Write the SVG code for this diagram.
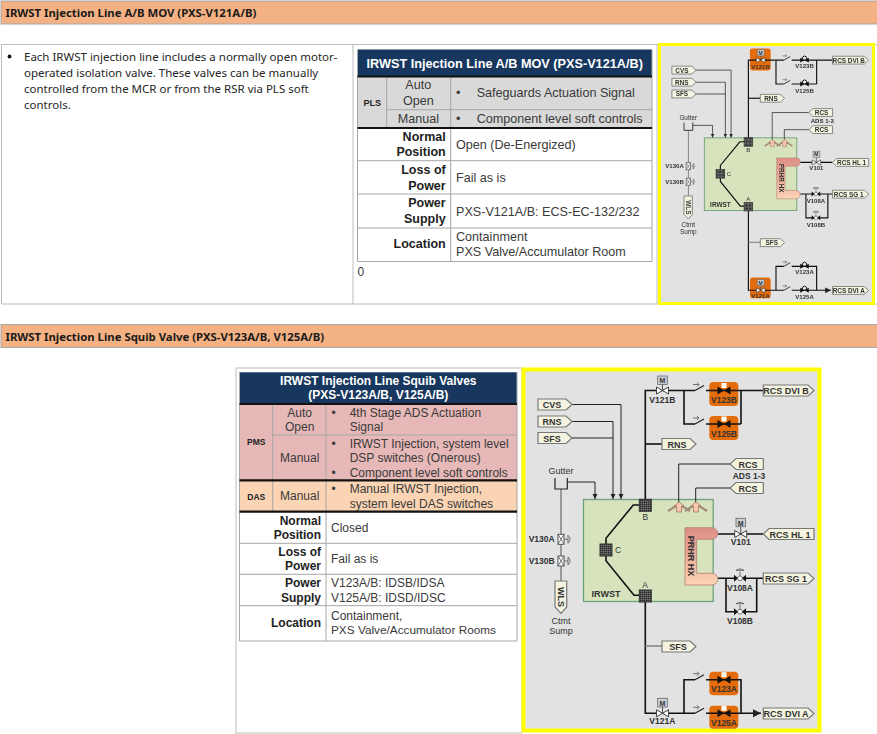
<svg xmlns="http://www.w3.org/2000/svg" xmlns:xlink="http://www.w3.org/1999/xlink" width="877" height="734" viewBox="0 0 877 734">
<style>
.band{fill:#F4B183;stroke:#A6A6A6;stroke-width:1}
.bt{font:bold 11.35px "Noto Sans",sans-serif;fill:#1a1a1a}
.body{font:11.5px "Noto Sans",sans-serif;fill:#262626}
.cell{fill:none;stroke:#BDBDBD;stroke-width:1}
.t{font:12px "Liberation Sans",Arial,sans-serif;fill:#3a3a3a}
.t1{font:12.6px "Liberation Sans",Arial,sans-serif;fill:#3a3a3a}
.tb{font:bold 12.5px "Liberation Sans",Arial,sans-serif;fill:#222}
.ts{font:bold 8.5px "Liberation Sans",Arial,sans-serif;fill:#222}
.th{font:bold 12.7px "Liberation Sans",Arial,sans-serif;fill:#fff}
.mid{text-anchor:middle}.end{text-anchor:end}
.grid{stroke:#A6A6A6;stroke-width:1;fill:none}
.thick{stroke:#111;stroke-width:2.2;fill:none}
.frame{fill:#E2E2E2;stroke:#FFFF00;stroke-width:4}
.tag{fill:#F4F4E0;stroke:#777;stroke-width:1.2}
.tg{font:bold 9px "Liberation Sans",Arial,sans-serif;fill:#333;text-anchor:middle}
.lb{font:bold 8.5px "Liberation Sans",Arial,sans-serif;fill:#333;text-anchor:middle}
.lr{font:8.5px "Liberation Sans",Arial,sans-serif;fill:#333;text-anchor:middle}
.p{fill:none;stroke:#111;stroke-width:1.6}
.pt{fill:none;stroke:#222;stroke-width:1}
.pg{fill:none;stroke:#808080;stroke-width:1.5}
.tank{fill:#D7E3BC;stroke:#6FA27E;stroke-width:1.3}
.org{fill:#E46C0A}
.m{fill:#C8D0D8;stroke:#666;stroke-width:.8}
.mt{font:bold 7px "Liberation Sans",Arial,sans-serif;fill:#333;text-anchor:middle}
</style>
<defs>
<filter id="soft" x="-2%" y="-2%" width="104%" height="104%"><feGaussianBlur stdDeviation=".4"/></filter>
<linearGradient id="hx" x1="0" y1="0" x2="0" y2="1"><stop offset="0" stop-color="#DE8F86"/><stop offset="0.45" stop-color="#E8A898"/><stop offset="1" stop-color="#FBD4B4"/></linearGradient>
<pattern id="chk" width="2" height="2" patternUnits="userSpaceOnUse"><rect width="2" height="2" fill="#4d4d4d"/><rect width="1" height="1" fill="#2c2c2c"/><rect x="1" y="1" width="1" height="1" fill="#777"/></pattern>
<marker id="ar" markerWidth="6" markerHeight="6" refX="5" refY="3" orient="auto"><path d="M0 .5L5 3L0 5.500z" fill="#222"/></marker>
<g id="gate"><path d="M-6-3.500L0 0L-6 3.500zM6-3.500L0 0L6 3.500z" fill="#fff" stroke="#444" stroke-width="1"/></g>
<g id="squib"><path d="M-6.500-4L0 0L-6.500 4zM6.500-4L0 0L6.500 4z" fill="#111"/><rect x="-2.500" y="-7.500" width="5" height="5" fill="#fff"/></g>
<g id="squibs"><path d="M-6-3.500L0 0L-6 3.500zM6-3.500L0 0L6 3.500z" fill="#111"/><path d="M-3-1V-4Q0-8 3-4V-1" fill="none" stroke="#111" stroke-width="1.4"/></g>
<g id="globe"><path d="M-6-3.500L-2 0L-6 3.500zM6-3.500L2 0L6 3.500z" fill="#111"/><circle r="2.400" fill="#fff" stroke="#555" stroke-width=".8"/><path d="M0-2V-7M-4-8Q0-11 4-8z" fill="#ddd" stroke="#555" stroke-width=".8"/></g>
<g id="sw"><path d="M-5 0L4-5" fill="none" stroke="#222" stroke-width="1.2"/><path d="M-7-6H-1M-3-8L-1-6L-3-4" fill="none" stroke="#555" stroke-width=".8"/></g>
<g id="v130"><rect x="-3" y="-5" width="6" height="10" fill="#fff" stroke="#555"/><path d="M-3-5L3 5M3-5L-3 5" stroke="#555" stroke-width=".8"/><path d="M3 0H7M7-4Q11 0 7 4z" fill="#eee" stroke="#555" stroke-width=".8"/></g>
<g id="sp"><path d="M-11 4L0-3L11 4" fill="none" stroke="#A08A78" stroke-width="2.200"/><path d="M-2.500 5V-1H-5L0-5L5-1H2.500V5z" fill="#F6C8B4" stroke="#A06A50" stroke-width=".7"/></g>
</defs>
<rect width="877" height="734" fill="#fff"/>

<g id="section-a">
<rect class="band" x="1" y="1" width="877" height="23"/>
<text class="bt" x="5.500" y="17">IRWST Injection Line A/B MOV (PXS-V121A/B)</text>
<path class="cell" d="M1 44.500H877M1.500 44V304H877M353 44V304M657 44V304"/>
<circle cx="9.500" cy="56.500" r="1.900" fill="#111"/>
<text class="body"><tspan x="24" y="60.500">Each IRWST injection line includes a normally open motor-</tspan><tspan x="24" y="76.500">operated isolation valve. These valves can be manually</tspan><tspan x="24" y="93">controlled from the MCR or from the RSR via PLS soft</tspan><tspan x="24" y="109">controls.</tspan></text>
</g>

<g id="table-mov">
<rect x="357.500" y="49.500" width="294.500" height="27" fill="#17375E"/>
<rect x="357.500" y="77" width="294.500" height="51" fill="#D9D9D9"/>
<rect x="357.500" y="128" width="294.500" height="133.500" fill="#fff"/>
<path class="grid" d="M386.700 77V128M450.700 77V261.500M386.700 109.700H652M357.500 160.700H652M357.500 194H652M357.500 228H652M357.500 261.500H652M652 50V261.500M357.500 50V261.500"/>
<path class="thick" d="M357.500 76.500H652M357.500 128H652"/>
<text class="th mid" x="504.700" y="68">IRWST Injection Line A/B MOV (PXS-V121A/B)</text>
<text class="ts mid" x="372.300" y="106" style="font-size:9px">PLS</text>
<text class="t1 mid" x="418.300" y="89">Auto</text><text class="t1 mid" x="418.300" y="105">Open</text>
<text class="t1 mid" x="418.300" y="122.700">Manual</text>
<text class="t1" x="456" y="97.300">•</text><text class="t1" x="476.700" y="97.300">Safeguards Actuation Signal</text>
<text class="t1" x="456" y="122.700">•</text><text class="t1" x="476.700" y="122.700">Component level soft controls</text>
<text class="tb end" x="445.700" y="141">Normal</text><text class="tb end" x="445.700" y="156.300">Position</text>
<text class="tb end" x="445.700" y="174.300">Loss of</text><text class="tb end" x="445.700" y="190">Power</text>
<text class="tb end" x="445.700" y="207.300">Power</text><text class="tb end" x="445.700" y="223">Supply</text>
<text class="tb end" x="445.700" y="248.300">Location</text>
<text class="t1" x="456" y="149.300">Open (De-Energized)</text>
<text class="t1" x="456" y="182">Fail as is</text>
<text class="t1" x="456" y="215.700">PXS-V121A/B: ECS-EC-132/232</text>
<text class="t1" x="456" y="241">Containment</text><text class="t1" x="456" y="256.300">PXS Valve/Accumulator Room</text>
<text class="t" x="357.500" y="275.500">0</text>
</g>

<rect x="659.500" y="44.500" width="214" height="259" class="frame" style="stroke-width:3"/>
<g id="diagram-small" transform="matrix(.713 0 0 .713 288.300 -218.300)" filter="url(#soft)">
<rect class="org" x="647.500" y="374" width="29" height="31" rx="4"/>
<rect class="org" x="647.500" y="695.500" width="29" height="29" rx="4"/>
<g id="s-irwst"><rect class="tank" x="583.500" y="499.500" width="129.700" height="102"/><text class="lb" x="606" y="597" style="font-size:9px">IRWST</text></g>
<g id="s-connectors">
<path class="pt" d="M572 404.500H621V499" marker-end="url(#ar)"/>
<path class="pt" d="M572 421.500H613V499" marker-end="url(#ar)"/>
<path class="pt" d="M572 438H613"/>
<path class="pt" d="M567 482H595V499" marker-end="url(#ar)"/>
<path class="pg" d="M561 489V581"/>
<path class="p" d="M645.300 499V390.500H695M706 390.500H763"/>
<path class="p" d="M684 390.500V424H695M706 424H741M741 390.500V424"/>
<path class="p" d="M645.300 444H662"/>
<path class="pt" d="M730 464H678.700V502M730 488H695.700V502"/>
<path class="p" d="M718 534H763M718 578.300H763M726 578.300V611.700H756.700V578.300"/>
<path class="p" d="M640 505H633.300L606 538.300V544M606 556V560.700L634 595.300H640"/>
<path class="p" d="M645.300 601V713.300H695M706 713.300H761" marker-end="url(#ar)"/>
<path class="pg" d="M645.300 646H662"/>
<path class="p" d="M684 713.300V679.700H695M706 679.700H741V713.300"/>
<path d="M662.500 384V390M662.500 707V713M740.700 526.700V534" stroke="#555"/>
</g>
<g id="s-noz-b"><rect x="639.300" y="499.300" width="12" height="12" fill="url(#chk)" stroke="#333"/><text class="lr" x="645.300" y="520">B</text></g>
<g id="s-noz-c"><rect x="600" y="544" width="12" height="12" fill="url(#chk)" stroke="#333"/><text class="lr" x="618" y="553">C</text></g>
<g id="s-noz-a"><rect x="639.300" y="590" width="12" height="12" fill="url(#chk)" stroke="#333"/><text class="lr" x="645" y="588">A</text></g>
<g id="s-prhr"><path d="M685 527.700H712A5.800 5.800 0 0 1 712 539.300H696.700V573.300H712A5.800 5.800 0 0 1 712 585H685z" fill="url(#hx)" stroke="#B08070" stroke-width=".8"/><text class="lb" transform="translate(688 556) rotate(90)" style="font-size:9px">PRHR HX</text></g>
<g id="s-sp"><use href="#sp" x="679" y="507"/><use href="#sp" x="696" y="507"/></g>
<g id="s-cvs"><path class="tag" d="M538 399H566L572 404.500L566 410H538z"/><text class="tg" x="552" y="408">CVS</text></g>
<g id="s-rns1"><path class="tag" d="M538 416H566L572 421.500L566 427H538z"/><text class="tg" x="552" y="425">RNS</text></g>
<g id="s-sfs1"><path class="tag" d="M538 432.500H566L572 438L566 443.500H538z"/><text class="tg" x="552" y="441.500">SFS</text></g>
<g id="s-rns2"><path class="tag" d="M662 438.500H690L696 444L690 449.500H662z"/><text class="tg" x="677" y="447.500">RNS</text></g>
<g id="s-rcs1"><path class="tag" d="M763.300 458.500H736L730 464L736 469.500H763.300z"/><text class="tg" x="748" y="467.500">RCS</text></g>
<text class="lb" x="749" y="479">ADS 1-3</text>
<g id="s-rcs2"><path class="tag" d="M763.300 482.500H736L730 488L736 493.500H763.300z"/><text class="tg" x="748" y="491.500">RCS</text></g>
<g id="s-hl"><path class="tag" d="M814 528.500H769L763.300 534L769 539.500H814z"/><text class="tg" x="790" y="537.500">RCS HL 1</text></g>
<g id="s-sg"><path class="tag" d="M763.300 573H808L814 578.500L808 584H763.300z"/><text class="tg" x="786" y="582">RCS SG 1</text></g>
<g id="s-dvib"><path class="tag" d="M763.300 385H808L814 390.500L808 396H763.300z"/><text class="tg" x="786" y="394">RCS DVI B</text></g>
<g id="s-dvia"><path class="tag" d="M763.300 708H808L814 713.500L808 719H763.300z"/><text class="tg" x="786" y="717">RCS DVI A</text></g>
<g id="s-sfs2"><path class="tag" d="M662 641H690L696 646.500L690 652H662z"/><text class="tg" x="678" y="650">SFS</text></g>
<g id="s-gutter"><path d="M555 478V489H567.300V478" fill="none" stroke="#222" stroke-width="1.2"/><text class="lr" x="561" y="474" style="font-size:9px">Gutter</text></g>
<g id="s-v130a"><use href="#v130" x="561" y="539.300"/><text class="lb" x="541.700" y="542.300">V130A</text></g>
<g id="s-v130b"><use href="#v130" x="561" y="561"/><text class="lb" x="541.700" y="564">V130B</text></g>
<g id="s-wls"><path class="tag" d="M555 581H566.700V607L561 613.300L555 607z"/><text class="tg" transform="translate(558 597) rotate(90)">WLS</text><text class="lr" x="561" y="624" style="font-size:9px">Ctmt</text><text class="lr" x="561" y="634" style="font-size:9px">Sump</text></g>
<g id="s-v121b"><rect class="m" x="657.700" y="376" width="9.600" height="8.500"/><text class="mt" x="662.500" y="383">M</text><use href="#gate" x="662.500" y="390.500"/><text class="lb" x="662.300" y="403">V121B</text></g>
<g id="s-v121a"><rect class="m" x="657.700" y="698.300" width="9.600" height="8.700"/><text class="mt" x="662.500" y="705.500">M</text><use href="#gate" x="662.500" y="713.300"/><text class="lb" x="662.300" y="724">V121A</text></g>
<g id="s-v101"><rect class="m" x="736" y="518.300" width="9.600" height="8.400"/><text class="mt" x="740.700" y="525.500">M</text><use href="#gate" x="740.700" y="534"/><text class="lb" x="740.700" y="545">V101</text></g>
<g id="s-v123b"><use href="#sw" x="700" y="390.500"/><use href="#squibs" x="724" y="390.500"/><text class="lb" x="724" y="402">V123B</text></g>
<g id="s-v125b"><use href="#sw" x="700" y="424"/><use href="#squibs" x="724" y="424"/><text class="lb" x="724" y="437">V125B</text></g>
<g id="s-v123a"><use href="#sw" x="700" y="679.700"/><use href="#squibs" x="724" y="679.700"/><text class="lb" x="724" y="691">V123A</text></g>
<g id="s-v125a"><use href="#sw" x="700" y="713.300"/><use href="#squibs" x="724" y="713.300"/><text class="lb" x="724" y="726">V125A</text></g>
<g id="s-v108a"><use href="#globe" x="740" y="578.300"/><text class="lb" x="740" y="591">V108A</text></g>
<g id="s-v108b"><use href="#globe" x="740" y="611.700"/><text class="lb" x="740" y="624">V108B</text></g>
</g>

<g id="section-b">
<rect class="band" x="1" y="324.500" width="877" height="23"/>
<text class="bt" x="5.500" y="340.500">IRWST Injection Line Squib Valve (PXS-V123A/B, V125A/B)</text>
<rect class="cell" x="236" y="368" width="286" height="365"/>
</g>

<g id="table-squib">
<rect x="239.500" y="372.300" width="277.500" height="31.500" fill="#17375E"/>
<rect x="239.500" y="404" width="277.500" height="76" fill="#E6B8B7"/>
<rect x="239.500" y="480.500" width="277.500" height="31" fill="#FBD4B4"/>
<rect x="239.500" y="511.500" width="277.500" height="129.500" fill="#fff"/>
<path class="grid" d="M272.700 404V511M326 404V641M272.700 435H517M239.500 543.300H517M239.500 574.300H517M239.500 605.700H517M239.500 641H517M517 372V641M239.500 372V641"/>
<path class="thick" d="M239.500 404H517M239.500 480.300H517M239.500 511.700H517"/>
<text class="th mid" x="378.300" y="384.500" style="font-size:12px">IRWST Injection Line Squib Valves</text>
<text class="th mid" x="378.300" y="399.300" style="font-size:12px">(PXS-V123A/B, V125A/B)</text>
<text class="ts mid" x="256.300" y="445">PMS</text><text class="ts mid" x="256.300" y="500">DAS</text>
<text class="t mid" x="299.700" y="416.700">Auto</text><text class="t mid" x="299.700" y="431">Open</text>
<text class="t mid" x="299.700" y="462.300">Manual</text><text class="t mid" x="299.700" y="500">Manual</text>
<text class="t" x="331.500" y="416.700">•</text><text class="t" x="349.700" y="416.700">4th Stage ADS Actuation</text><text class="t" x="349.700" y="431">Signal</text>
<text class="t" x="331.500" y="447.700">•</text><text class="t" x="349.700" y="447.700">IRWST Injection, system level</text><text class="t" x="349.700" y="462.300">DSP switches (Onerous)</text>
<text class="t" x="331.500" y="476.700">•</text><text class="t" x="349.700" y="476.700">Component level soft controls</text>
<text class="t" x="331.500" y="493.300">•</text><text class="t" x="349.700" y="493.300">Manual IRWST Injection,</text><text class="t" x="349.700" y="507.700">system level DAS switches</text>
<text class="tb end" x="321" y="524.700" style="font-size:12px">Normal</text><text class="tb end" x="321" y="539" style="font-size:12px">Position</text>
<text class="tb end" x="321" y="555.700" style="font-size:12px">Loss of</text><text class="tb end" x="321" y="570.300" style="font-size:12px">Power</text>
<text class="tb end" x="321" y="587" style="font-size:12px">Power</text><text class="tb end" x="321" y="601.700" style="font-size:12px">Supply</text>
<text class="tb end" x="321" y="627.300" style="font-size:12px">Location</text>
<text class="t" x="331" y="531.700">Closed</text><text class="t" x="331" y="563.300">Fail as is</text>
<text class="t" x="331" y="587.300">V123A/B: IDSB/IDSA</text><text class="t" x="331" y="601.700">V125A/B: IDSD/IDSC</text>
<text class="t" x="331" y="620">Containment,</text><text class="t" x="331" y="634.300" style="font-size:11.8px">PXS Valve/Accumulator Rooms</text>
</g>

<rect x="523.500" y="369.500" width="296" height="361" class="frame"/>
<g id="diagram-large">
<g id="b-orange"><rect class="org" x="709.300" y="382" width="29" height="24" rx="4"/><rect class="org" x="709.300" y="416" width="29" height="24" rx="4"/><rect class="org" x="709.300" y="671.700" width="29" height="23.500" rx="4"/><rect class="org" x="709.300" y="705.700" width="29" height="23" rx="4"/></g>
<g id="b-irwst"><rect class="tank" x="583.500" y="499.500" width="129.700" height="102"/><text class="lb" x="606" y="597" style="font-size:9px">IRWST</text></g>
<g id="b-connectors">
<path class="pt" d="M572 404.500H621V499" marker-end="url(#ar)"/>
<path class="pt" d="M572 421.500H613V499" marker-end="url(#ar)"/>
<path class="pt" d="M572 438H613"/>
<path class="pt" d="M567 482H595V499" marker-end="url(#ar)"/>
<path class="pg" d="M561 489V581"/>
<path class="p" d="M645.300 499V390.500H695M706 390.500H763"/>
<path class="p" d="M684 390.500V424H695M706 424H741M741 390.500V424"/>
<path class="p" d="M645.300 444H662"/>
<path class="pt" d="M730 464H678.700V502M730 488H695.700V502"/>
<path class="p" d="M718 534H763M718 578.300H763M726 578.300V611.700H756.700V578.300"/>
<path class="p" d="M640 505H633.300L606 538.300V544M606 556V560.700L634 595.300H640"/>
<path class="p" d="M645.300 601V713.300H695M706 713.300H761" marker-end="url(#ar)"/>
<path class="pg" d="M645.300 646H662"/>
<path class="p" d="M684 713.300V679.700H695M706 679.700H741V713.300"/>
<path d="M662.500 384V390M662.500 707V713M740.700 526.700V534" stroke="#555"/>
</g>
<g id="b-noz-b"><rect x="639.300" y="499.300" width="12" height="12" fill="url(#chk)" stroke="#333"/><text class="lr" x="645.300" y="520">B</text></g>
<g id="b-noz-c"><rect x="600" y="544" width="12" height="12" fill="url(#chk)" stroke="#333"/><text class="lr" x="618" y="553">C</text></g>
<g id="b-noz-a"><rect x="639.300" y="590" width="12" height="12" fill="url(#chk)" stroke="#333"/><text class="lr" x="645" y="588">A</text></g>
<g id="b-prhr"><path d="M685 527.700H712A5.800 5.800 0 0 1 712 539.300H696.700V573.300H712A5.800 5.800 0 0 1 712 585H685z" fill="url(#hx)" stroke="#B08070" stroke-width=".8"/><text class="lb" transform="translate(688 556) rotate(90)" style="font-size:9px">PRHR HX</text></g>
<g id="b-sp"><use href="#sp" x="679" y="507"/><use href="#sp" x="696" y="507"/></g>
<g id="b-cvs"><path class="tag" d="M538 399H566L572 404.500L566 410H538z"/><text class="tg" x="552" y="408">CVS</text></g>
<g id="b-rns1"><path class="tag" d="M538 416H566L572 421.500L566 427H538z"/><text class="tg" x="552" y="425">RNS</text></g>
<g id="b-sfs1"><path class="tag" d="M538 432.500H566L572 438L566 443.500H538z"/><text class="tg" x="552" y="441.500">SFS</text></g>
<g id="b-rns2"><path class="tag" d="M662 438.500H690L696 444L690 449.500H662z"/><text class="tg" x="677" y="447.500">RNS</text></g>
<g id="b-rcs1"><path class="tag" d="M763.300 458.500H736L730 464L736 469.500H763.300z"/><text class="tg" x="748" y="467.500">RCS</text></g>
<text class="lb" x="749" y="479">ADS 1-3</text>
<g id="b-rcs2"><path class="tag" d="M763.300 482.500H736L730 488L736 493.500H763.300z"/><text class="tg" x="748" y="491.500">RCS</text></g>
<g id="b-hl"><path class="tag" d="M814 528.500H769L763.300 534L769 539.500H814z"/><text class="tg" x="790" y="537.500">RCS HL 1</text></g>
<g id="b-sg"><path class="tag" d="M763.300 573H808L814 578.500L808 584H763.300z"/><text class="tg" x="786" y="582">RCS SG 1</text></g>
<g id="b-dvib"><path class="tag" d="M763.300 385H808L814 390.500L808 396H763.300z"/><text class="tg" x="786" y="394">RCS DVI B</text></g>
<g id="b-dvia"><path class="tag" d="M763.300 708H808L814 713.500L808 719H763.300z"/><text class="tg" x="786" y="717">RCS DVI A</text></g>
<g id="b-sfs2"><path class="tag" d="M662 641H690L696 646.500L690 652H662z"/><text class="tg" x="678" y="650">SFS</text></g>
<g id="b-gutter"><path d="M555 478V489H567.300V478" fill="none" stroke="#222" stroke-width="1.2"/><text class="lr" x="561" y="474" style="font-size:9px">Gutter</text></g>
<g id="b-v130a"><use href="#v130" x="561" y="539.300"/><text class="lb" x="541.700" y="542.300">V130A</text></g>
<g id="b-v130b"><use href="#v130" x="561" y="561"/><text class="lb" x="541.700" y="564">V130B</text></g>
<g id="b-wls"><path class="tag" d="M555 581H566.700V607L561 613.300L555 607z"/><text class="tg" transform="translate(558 597) rotate(90)">WLS</text><text class="lr" x="561" y="624" style="font-size:9px">Ctmt</text><text class="lr" x="561" y="634" style="font-size:9px">Sump</text></g>
<g id="b-v121b"><rect class="m" x="657.700" y="376" width="9.600" height="8.500"/><text class="mt" x="662.500" y="383">M</text><use href="#gate" x="662.500" y="390.500"/><text class="lb" x="662.300" y="403">V121B</text></g>
<g id="b-v121a"><rect class="m" x="657.700" y="698.300" width="9.600" height="8.700"/><text class="mt" x="662.500" y="705.500">M</text><use href="#gate" x="662.500" y="713.300"/><text class="lb" x="662.300" y="724">V121A</text></g>
<g id="b-v101"><rect class="m" x="736" y="518.300" width="9.600" height="8.400"/><text class="mt" x="740.700" y="525.500">M</text><use href="#gate" x="740.700" y="534"/><text class="lb" x="740.700" y="545">V101</text></g>
<g id="b-v123b"><use href="#sw" x="700" y="390.500"/><use href="#squib" x="724" y="390.500"/><text class="lb" x="724" y="402.500">V123B</text></g>
<g id="b-v125b"><use href="#sw" x="700" y="424"/><use href="#squib" x="724" y="424"/><text class="lb" x="724" y="436.500">V125B</text></g>
<g id="b-v123a"><use href="#sw" x="700" y="679.700"/><use href="#squib" x="724" y="679.700"/><text class="lb" x="724" y="691.500">V123A</text></g>
<g id="b-v125a"><use href="#sw" x="700" y="713.300"/><use href="#squib" x="724" y="713.300"/><text class="lb" x="724" y="725.500">V125A</text></g>
<g id="b-v108a"><use href="#globe" x="740" y="578.300"/><text class="lb" x="740" y="591">V108A</text></g>
<g id="b-v108b"><use href="#globe" x="740" y="611.700"/><text class="lb" x="740" y="624">V108B</text></g>
</g>
</svg>
